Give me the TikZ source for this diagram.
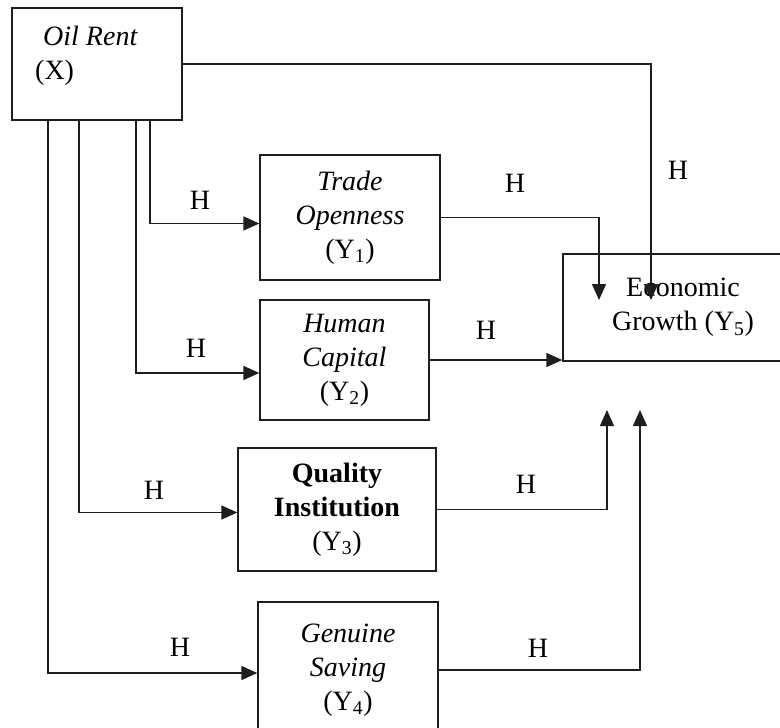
\documentclass[tikz,border=0pt]{standalone}
\usepackage{fontspec}
\setmainfont{Liberation Serif}
\usepackage{tikz}
\usetikzlibrary{arrows.meta,calc,positioning}
\definecolor{Ink}{HTML}{1E1E1E}
\tikzset{
  varbox/.style={draw=Ink,line width=1.3pt,inner sep=0pt,align=center,font=\fontsize{28}{34}\selectfont},
  vartext/.style={inner sep=0pt,align=left,anchor=north west,font=\fontsize{28}{34}\selectfont},
  link/.style={draw=Ink,line width=1.4pt,-{Triangle[length=16pt,width=14pt]}},
  hyplabel/.style={inner sep=0pt,font=\fontsize{28}{34}\selectfont}
}

\begin{document}
\begin{tikzpicture}[x=1pt,y=-1pt]
  \useasboundingbox (0,0) rectangle (780,728);
  \clip (0,0) rectangle (780,728);

  % variable boxes
  \node[varbox,minimum width=170pt,minimum height=112pt] (oil) at (97,64) {};
  \node[vartext] (oiltxt) at (35,26) {\hspace*{8pt}\textit{Oil Rent}\\(X)};
  \node[varbox,minimum width=180pt,minimum height=125pt] (trade) at (350,217.5) {\textit{Trade}\\\textit{Openness}\\(Y\textsubscript{1})};
  \node[varbox,minimum width=169pt,minimum height=120pt] (human) at (344.5,360) {\textit{Human}\\\textit{Capital}\\(Y\textsubscript{2})};
  \node[varbox,minimum width=198pt,minimum height=123pt] (quality) at (337,509.5) {\textbf{Quality}\\\textbf{Institution}\\(Y\textsubscript{3})};
  \node[varbox,minimum width=180pt,minimum height=136pt] (genuine) at (348,670) {\textit{Genuine}\\\textit{Saving}\\(Y\textsubscript{4})};
  \node[varbox,minimum width=240pt,minimum height=107pt] (econ) at (683,307.5) {Economic\\Growth (Y\textsubscript{5})};

  % where the links leave Oil Rent and end at Economic Growth
  \coordinate (dropsaving) at (48,0);
  \coordinate (dropquality) at (79,0);
  \coordinate (drophuman) at (136,0);
  \coordinate (droptrade) at (150,0);
  \coordinate (tipoil) at (651,300);
  \coordinate (tiptrade) at (599,300);
  \coordinate (tipquality) at (607,410);
  \coordinate (tipsaving) at (640,410);

  % links from Oil Rent
  \draw[link] (oil.east) -| (tipoil);
  \draw[link] (oil.south -| droptrade) |- ([yshift=-6pt]trade.west);
  \draw[link] (oil.south -| drophuman) |- ([yshift=-13pt]human.west);
  \draw[link] (oil.south -| dropquality) |- ([yshift=-3pt]quality.west);
  \draw[link] (oil.south -| dropsaving) |- ([yshift=-3pt]genuine.west);

  % links into Economic Growth
  \draw[link] (trade.east) -| (tiptrade);
  \draw[link] (human.east) -- (econ.west |- human.east);
  \draw[link] (quality.east) -| (tipquality);
  \draw[link] (genuine.east) -| (tipsaving);

  % hypothesis labels
  \node[hyplabel] (hoil) at (678,170) {H};
  \node[hyplabel] (htradein) at (200,200) {H};
  \node[hyplabel] (hhumanin) at (196,348) {H};
  \node[hyplabel] (hqualityin) at (154,490) {H};
  \node[hyplabel] (hsavingin) at (180,647) {H};
  \node[hyplabel] (htradeout) at (515,183) {H};
  \node[hyplabel] (hhumanout) at (486,330) {H};
  \node[hyplabel] (hqualityout) at (526,484) {H};
  \node[hyplabel] (hsavingout) at (538,648) {H};
\end{tikzpicture}
\end{document}
